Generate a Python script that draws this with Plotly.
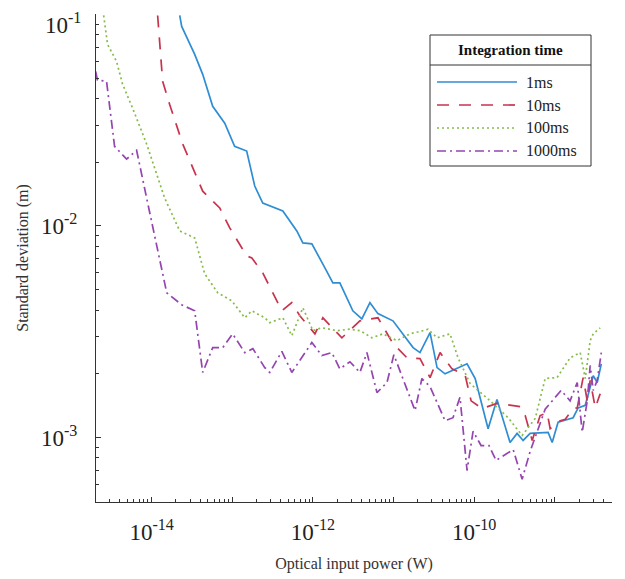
import plotly.graph_objects as go

# ---- data ----
x_1ms = [2.23e-14, 2.36e-14, 3.42e-14, 4.30e-14, 5.72e-14, 8.07e-14, 1.07e-13, 1.51e-13, 1.90e-13, 2.39e-13,
         4.24e-13, 6.32e-13, 7.51e-13, 9.71e-13, 1.41e-12, 1.77e-12, 2.16e-12, 3.13e-12, 4.05e-12, 5.10e-12,
         6.41e-12, 9.84e-12, 1.75e-11, 2.13e-11, 2.84e-11, 3.47e-11, 4.36e-11, 5.80e-11, 8.17e-11, 1.03e-10,
         1.49e-10, 1.92e-10, 2.79e-10, 3.41e-10, 4.05e-10, 4.95e-10, 8.28e-10, 9.29e-10, 1.10e-09, 1.69e-09,
         1.95e-09, 2.39e-09, 2.75e-09, 3.00e-09, 3.36e-09, 3.78e-09]
y_1ms = [0.0989, 0.0878, 0.0647, 0.0521, 0.0368, 0.0306, 0.0238, 0.0226, 0.01545, 0.01284,
         0.01178, 0.00947, 0.00832, 0.00823, 0.00634, 0.00538, 0.00538, 0.00397, 0.00364, 0.00434,
         0.00385, 0.00356, 0.00266, 0.00252, 0.00313, 0.00214, 0.00200, 0.00211, 0.00223, 0.00190,
         0.00110, 0.00151, 0.000947, 0.001045, 0.000968, 0.001045, 0.001057, 0.000947, 0.00118, 0.00124,
         0.00138, 0.00142, 0.00172, 0.00196, 0.00182, 0.00223]

x_10ms = [1.187e-14, 1.257e-14, 1.37e-14, 1.67e-14, 2.43e-14, 4.30e-14, 7.00e-14, 9.31e-14, 1.51e-13, 1.75e-13,
          2.39e-13, 4.12e-13, 5.48e-13, 6.89e-13, 1.06e-12, 1.33e-12, 2.29e-12, 3.83e-12, 6.41e-12, 9.84e-12,
          1.47e-11, 2.13e-11, 2.84e-11, 3.78e-11, 5.32e-11, 7.71e-11, 9.17e-11, 1.26e-10, 1.92e-10, 3.72e-10,
          4.30e-10, 5.25e-10, 6.59e-10, 8.05e-10, 8.77e-10, 1.17e-09, 1.35e-09, 1.69e-09, 1.90e-09, 2.25e-09,
          2.53e-09, 2.75e-09, 3.18e-09, 3.66e-09]
y_10ms = [0.0989, 0.0706, 0.0483, 0.0376, 0.0244, 0.0146, 0.01216, 0.00979, 0.00722, 0.00706,
          0.00600, 0.00397, 0.00434, 0.00376, 0.00309, 0.00368, 0.00296, 0.00356, 0.00368, 0.00278,
          0.00238, 0.00236, 0.00192, 0.00252, 0.00211, 0.00198, 0.00149, 0.00137, 0.00145, 0.00140,
          0.00127, 0.000968, 0.00127, 0.00131, 0.00110, 0.00120, 0.00122, 0.00137, 0.00138, 0.00192,
          0.00149, 0.00186, 0.00138, 0.00161]

x_100ms = [2.54e-15, 2.84e-15, 3.67e-15, 4.36e-15, 5.81e-15, 8.67e-15, 1.45e-14, 2.23e-14, 3.42e-14, 4.55e-14,
           6.60e-14, 9.86e-14, 1.43e-13, 1.75e-13, 2.53e-13, 2.92e-13, 4.24e-13, 5.48e-13, 7.51e-13, 1.00e-12,
           1.29e-12, 1.99e-12, 2.88e-12, 3.83e-12, 5.40e-12, 7.40e-12, 1.10e-11, 1.60e-11, 2.32e-11, 2.68e-11,
           3.47e-11, 5.02e-11, 6.32e-11, 8.91e-11, 1.58e-10, 2.64e-10, 3.94e-10, 5.72e-10, 7.60e-10, 1.07e-09,
           1.55e-09, 2.07e-09, 2.39e-09, 2.75e-09, 3.00e-09, 3.66e-09]
y_100ms = [0.0989, 0.0722, 0.0600, 0.0468, 0.0360, 0.0244, 0.01355, 0.00947, 0.00878, 0.00594,
           0.00483, 0.00443, 0.00368, 0.00397, 0.00368, 0.00349, 0.00368, 0.00303, 0.00410, 0.00320,
           0.00330, 0.00320, 0.00325, 0.00320, 0.00296, 0.00309, 0.00287, 0.00309, 0.00320, 0.00325,
           0.00296, 0.00309, 0.00238, 0.00180, 0.00149, 0.00124, 0.001022, 0.00123, 0.00190, 0.00192,
           0.00238, 0.00252, 0.00190, 0.00287, 0.00309, 0.00330]

x_1000ms = [2.02e-15, 2.13e-15, 2.76e-15, 3.47e-15, 4.89e-15, 6.51e-15, 8.67e-15, 1.54e-14, 2.36e-14, 3.42e-14,
            4.30e-14, 5.72e-14, 7.62e-14, 1.01e-13, 1.43e-13, 1.80e-13, 2.53e-13, 2.92e-13, 4.12e-13, 5.48e-13,
            9.71e-13, 1.29e-12, 1.72e-12, 2.16e-12, 2.88e-12, 3.83e-12, 4.68e-12, 6.24e-12, 8.30e-12, 1.01e-11,
            1.85e-11, 2.25e-11, 2.84e-11, 4.36e-11, 5.47e-11, 6.68e-11, 8.17e-11, 9.70e-11, 1.22e-10, 1.53e-10,
            1.87e-10, 3.05e-10, 3.94e-10, 4.95e-10, 7.60e-10, 1.20e-09, 1.55e-09, 1.90e-09, 2.19e-09, 2.53e-09,
            2.75e-09, 3.00e-09, 3.36e-09, 3.78e-09]
y_1000ms = [0.0538, 0.0489, 0.0483, 0.0238, 0.0207, 0.0228, 0.01355, 0.00483, 0.00424, 0.00397,
            0.00203, 0.00266, 0.00266, 0.00309, 0.00252, 0.00263, 0.00214, 0.00203, 0.00255, 0.00203,
            0.00281, 0.00244, 0.00252, 0.00211, 0.00228, 0.00203, 0.00252, 0.00163, 0.00182, 0.00246,
            0.00134, 0.00190, 0.00174, 0.00120, 0.00124, 0.00155, 0.000698, 0.00107, 0.000916, 0.000916,
            0.000779, 0.000877, 0.000634, 0.000859, 0.00136, 0.00167, 0.00149, 0.00182, 0.00106, 0.00149,
            0.00219, 0.00167, 0.00186, 0.00252]

series_names = ["1ms", "10ms", "100ms", "1000ms"]
series_colors = ["#2F8DD3", "#C8334E", "#86BC4A", "#9545B0"]
series_dash = ["solid", "12px,10px", "2px,3px", "9px,4px,2px,4px"]

x_tick_vals = [1e-15, 1e-14, 1e-13, 1e-12, 1e-11, 1e-10, 1e-9]
x_tick_text = ["", "10<sup>-14</sup>", "", "10<sup>-12</sup>", "", "10<sup>-10</sup>", ""]
y_tick_vals = [1e-3, 1e-2, 1e-1]
y_tick_text = ["10<sup>-3</sup>", "10<sup>-2</sup>", ""]
y_top_label = "10<sup>-1</sup>"
minor_mult = [2, 3, 4, 5, 6, 7, 8, 9]
x_minor_vals = [m * d for d in [1e-15, 1e-14, 1e-13, 1e-12, 1e-11, 1e-10, 1e-9] for m in minor_mult]
y_minor_vals = [m * d for d in [1e-4, 1e-3, 1e-2] for m in minor_mult]

xs = [x_1ms, x_10ms, x_100ms, x_1000ms]
ys = [y_1ms, y_10ms, y_100ms, y_1000ms]

FONT = "Liberation Serif, Times New Roman, serif"
fig = go.Figure()
for name, x, y, c, d in zip(series_names, xs, ys, series_colors, series_dash):
    fig.add_trace(go.Scatter(x=x, y=y, mode="lines", name=name,
                             line=dict(color=c, width=1.7, dash=d), showlegend=False))

# ---- layout geometry (page is drawn with an 8px body offset) ----
W, H = 625, 579
OFF = 8
L, R, T, B = 88, 21, 6, 85
pw, ph = W - L - R, H - T - B
def px(xp):  # page pixel -> paper x
    return (xp - OFF - L) / pw
def py(yp):  # page pixel -> paper y
    return (OFF + T + ph - yp) / ph

shapes = []
annotations = []
# top y tick label, kept just inside the page like the reference
annotations.append(dict(xref="paper", yref="paper", x=px(83), y=py(24), text=y_top_label,
                        showarrow=False, xanchor="right", yanchor="middle",
                        font=dict(family=FONT, size=23, color="#222222")))
shapes.append(dict(type="rect", xref="paper", yref="paper",
                   x0=px(430), x1=px(591), y0=py(166), y1=py(35),
                   line=dict(color="#333333", width=1), fillcolor="white", layer="above"))
shapes.append(dict(type="line", xref="paper", yref="paper",
                   x0=px(430), x1=px(591), y0=py(65), y1=py(65),
                   line=dict(color="#333333", width=1), layer="above"))
annotations.append(dict(xref="paper", yref="paper", x=px(510), y=py(50), text="<b>Integration time</b>",
                        showarrow=False, xanchor="center", yanchor="middle",
                        font=dict(family=FONT, size=15, color="#111111")))
item_y = [82, 105, 128, 151]
for name, c, d, yy in zip(series_names, series_colors, series_dash, item_y):
    shapes.append(dict(type="line", xref="paper", yref="paper",
                       x0=px(437), x1=px(517), y0=py(yy), y1=py(yy),
                       line=dict(color=c, width=1.7, dash=d), layer="above"))
    annotations.append(dict(xref="paper", yref="paper", x=px(524), y=py(yy), text=name,
                            showarrow=False, xanchor="left", yanchor="middle",
                            font=dict(family=FONT, size=16, color="#222222")))

fig.update_layout(
    width=W, height=H,
    margin=dict(l=L, r=R, t=T, b=B, autoexpand=False),
    paper_bgcolor="white", plot_bgcolor="white",
    font=dict(family=FONT, color="#222222"),
    shapes=shapes, annotations=annotations,
    showlegend=False,
)
fig.update_xaxes(
    type="log", range=[-14.69, -8.29], automargin=False,
    tickvals=x_tick_vals, ticktext=x_tick_text,
    ticks="inside", ticklen=5, tickcolor="#333333",
    minor=dict(tickvals=x_minor_vals, ticks="inside", ticklen=3, tickcolor="#333333", showgrid=False),
    showline=True, linecolor="#333333", linewidth=1, mirror=False,
    showgrid=False, zeroline=False,
    tickfont=dict(family=FONT, size=23, color="#222222"),
    ticklabelstandoff=9,
    title=dict(text="Optical input power (W)", font=dict(family=FONT, size=16, color="#333333"), standoff=14),
)
fig.update_yaxes(
    type="log", range=[-3.305, -0.998], automargin=False,
    tickvals=y_tick_vals, ticktext=y_tick_text,
    ticks="inside", ticklen=5, tickcolor="#333333",
    minor=dict(tickvals=y_minor_vals, ticks="inside", ticklen=3, tickcolor="#333333", showgrid=False),
    showline=True, linecolor="#333333", linewidth=1, mirror=False,
    showgrid=False, zeroline=False,
    tickfont=dict(family=FONT, size=23, color="#222222"),
    ticklabelstandoff=13,
    title=dict(text="Standard deviation (m)", font=dict(family=FONT, size=16, color="#333333"), standoff=8),
)

fig.write_html("out.html")
